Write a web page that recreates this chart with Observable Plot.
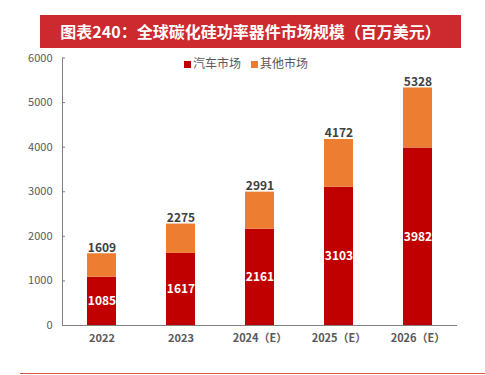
<!DOCTYPE html>
<html>
<head>
<meta charset="utf-8">
<script src="https://cdn.jsdelivr.net/npm/d3@7"></script>
<script src="https://cdn.jsdelivr.net/npm/@observablehq/plot@0.6"></script>
<style>
  html, body { margin: 0; padding: 0; background: #fff; }
  body { width: 485px; height: 375px; position: relative; overflow: hidden; font-family: "Noto Sans CJK SC", "Noto Sans", sans-serif; }
  #title { position: absolute; left: 40px; top: 15px; width: 421px; height: 33px; background: #cc2a2e; color: #fff; font-size: 16px; font-weight: bold; line-height: 33px; text-align: center; }
  #chart { position: absolute; left: 0; top: 50px; }
  #legend { position: absolute; top: 55px; left: 0; width: 492px; text-align: center; font-size: 12px; color: #595959; line-height: 16px; }
  #legend span.item { margin: 0 5px; }
  #legend span.sw { display: inline-block; width: 7px; height: 7px; margin-right: 2px; vertical-align: 0px; }
  #bottomline { position: absolute; left: 20px; top: 373px; width: 465px; height: 1px; background: #d9534f; }
</style>
</head>
<body>
<div id="title">图表240：全球碳化硅功率器件市场规模（百万美元）</div>
<div id="chart"></div>
<div id="legend"></div>
<div id="bottomline"></div>
<script>
const years = ["2022", "2023", "2024（E）", "2025（E）", "2026（E）"];
const seriesNames = ["汽车市场", "其他市场"];
const seriesColors = ["#c00000", "#ed7d31"];
const autoMarket = [1085, 1617, 2161, 3103, 3982];
const otherMarket = [524, 658, 830, 1069, 1346];
const totals = [1609, 2275, 2991, 4172, 5328];
const yTicks = [0, 1000, 2000, 3000, 4000, 5000, 6000];

const rows = [];
years.forEach((y, i) => {
  rows.push({year: y, series: seriesNames[0], value: autoMarket[i]});
  rows.push({year: y, series: seriesNames[1], value: otherMarket[i]});
});
const autoRows = years.map((y, i) => ({year: y, value: autoMarket[i]}));
const totalRows = years.map((y, i) => ({year: y, value: totals[i]}));

const font = "Noto Sans CJK SC, Noto Sans, sans-serif";

const chart = Plot.plot({
  width: 485,
  height: 300,
  marginLeft: 62,
  marginRight: 28,
  marginTop: 7.5,
  marginBottom: 25,
  style: {fontFamily: font, background: "transparent"},
  x: {domain: years, paddingInner: 0.63, paddingOuter: 0.315, label: null},
  y: {domain: [0, 6000], label: null},
  color: {domain: seriesNames, range: seriesColors},
  marks: [
    Plot.barY(rows, {x: "year", y: "value", fill: "series", order: seriesNames}),
    Plot.axisY({ticks: yTicks, tickSize: -3, tickPadding: 13, fontSize: 11, color: "#595959", stroke: "#808080", label: null, tickFormat: d => String(d)}),
    Plot.axisX({tickSize: 0, tickPadding: 9, fontSize: 11, fontWeight: "bold", color: "#595959", label: null}),
    Plot.frame({anchor: "left", stroke: "#808080"}),
    Plot.ruleY([0], {stroke: "#808080"}),
    Plot.text(autoRows, {x: "year", y: d => d.value / 2, text: d => String(d.value), fill: "#fff", fontSize: 12, fontWeight: "bold"}),
    Plot.text(totalRows, {x: "year", y: "value", text: d => String(d.value), dy: -6, fill: "#404040", fontSize: 12, fontWeight: "bold"})
  ]
});
document.getElementById("chart").appendChild(chart);

const legend = document.getElementById("legend");
seriesNames.forEach((n, i) => {
  const item = document.createElement("span");
  item.className = "item";
  const sw = document.createElement("span");
  sw.className = "sw";
  sw.style.background = seriesColors[i];
  item.appendChild(sw);
  item.appendChild(document.createTextNode(n));
  legend.appendChild(item);
});
</script>
</body>
</html>
